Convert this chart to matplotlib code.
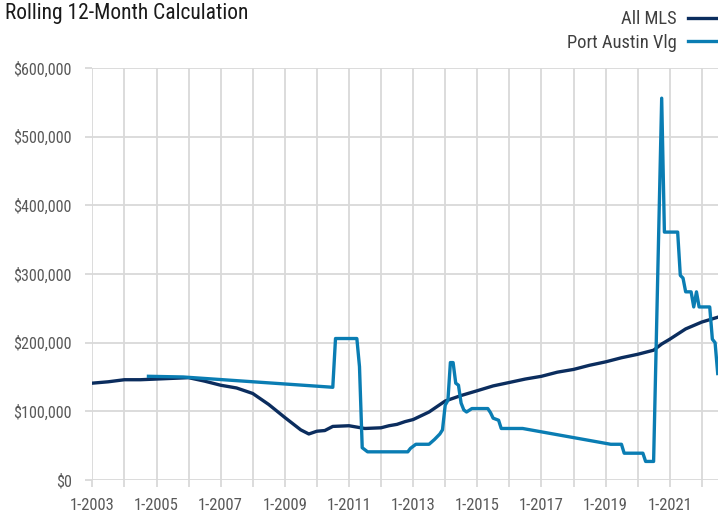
import pandas as pd
import matplotlib
matplotlib.use("Agg")
import matplotlib.pyplot as plt
from matplotlib import font_manager

names = set(f.name for f in font_manager.fontManager.ttflist)
families = [f for f in ['Roboto Condensed', 'Liberation Sans Narrow', 'Roboto'] if f in names]
plt.rcParams['font.family'] = families + ['DejaVu Sans']

# All MLS - rolling 12 month median
mls_dates = ["2003-01", "2003-07", "2004-01", "2004-07", "2005-01", "2005-07",
             "2006-01", "2006-07", "2007-01", "2007-07", "2008-01", "2008-07",
             "2009-01", "2009-07", "2009-10", "2010-01", "2010-04", "2010-07",
             "2011-01", "2011-07", "2012-01", "2012-04", "2012-07", "2012-10",
             "2013-01", "2013-07", "2014-01", "2014-07", "2015-01", "2015-07",
             "2016-01", "2016-07", "2017-01", "2017-07", "2018-01", "2018-07",
             "2019-01", "2019-07", "2020-01", "2020-07", "2020-10", "2021-01",
             "2021-07", "2022-01", "2022-07"]
mls_values = [141000, 143000, 146000, 146000, 147000, 148000,
              149000, 144000, 138000, 134000, 126000, 110000,
              91000, 73000, 67000, 71000, 72000, 78000,
              79000, 75000, 76000, 79000, 81000, 85000,
              88000, 99000, 115000, 123000, 130000, 137000,
              142000, 147000, 151000, 157000, 161000, 167000,
              172000, 178000, 183000, 189000, 198000, 205000,
              220000, 230000, 237000]

# Port Austin Vlg
pa_dates = ["2004-10", "2005-11", "2010-07", "2010-08", "2011-04", "2011-05",
            "2011-06", "2011-08", "2012-11", "2012-12", "2013-02", "2013-07",
            "2013-09", "2013-11", "2013-12", "2014-01", "2014-02", "2014-03",
            "2014-04", "2014-05", "2014-06", "2014-07", "2014-08", "2014-09",
            "2014-11", "2015-05", "2015-06", "2015-07", "2015-09", "2015-10",
            "2016-06", "2019-03", "2019-07", "2019-08", "2020-03", "2020-04",
            "2020-07", "2020-10", "2020-11", "2021-04", "2021-05", "2021-06",
            "2021-07", "2021-09", "2021-10", "2021-11", "2021-12", "2022-04",
            "2022-05", "2022-06", "2022-07"]
pa_values = [151000, 150000, 135000, 206000, 206000, 165000,
             47000, 41000, 41000, 46000, 52000, 52000,
             59000, 67000, 73000, 109000, 116000, 171000,
             171000, 141000, 138000, 112000, 102000, 99000,
             104000, 104000, 98000, 90000, 87000, 75000,
             75000, 52000, 52000, 39000, 39000, 27000,
             27000, 556000, 361000, 361000, 298000, 294000,
             274000, 274000, 252000, 274000, 252000, 252000,
             205000, 200000, 155000]

tick_years = list(range(2003, 2023))
tick_labels = ["1-%d" % y if (y - 2003) % 2 == 0 and y < 2022 else "" for y in tick_years]
y_ticks = [0, 100000, 200000, 300000, 400000, 500000, 600000]

mls_x = pd.to_datetime(mls_dates)
pa_x = pd.to_datetime(pa_dates)

fig = plt.figure(figsize=(7.18, 5.15), dpi=100)
ax = fig.add_axes([0.1286, 0.068, 0.871, 0.800])

grid_col = '#d9d9d9'
ax.plot(mls_x, mls_values, color='#0b2d5e', lw=2.4, label='All MLS', zorder=3)
ax.plot(pa_x, pa_values, color='#0a7db3', lw=2.4, label='Port Austin Vlg', zorder=4)

ax.set_ylim(0, 600000)
ax.set_xlim(pd.Timestamp("2003-01-01"), pd.Timestamp("2022-07-01"))
ax.set_yticks(y_ticks)
ax.set_yticklabels(["${:,.0f}".format(v) for v in y_ticks])
ax.set_xticks(pd.to_datetime(["%d-01-01" % y for y in tick_years]))
ax.set_xticklabels(tick_labels)

for s in ax.spines.values():
    s.set_visible(False)
ax.grid(True, color=grid_col, lw=1.3)
ax.set_axisbelow(True)
ax.tick_params(axis='both', length=5, width=1.3, color=grid_col,
               labelsize=11.6, labelcolor='#595959')
ax.tick_params(axis='x', labelsize=12, pad=8)
ax.tick_params(axis='y', pad=10)

fig.text(0.007, 0.995, 'Rolling 12-Month Calculation', fontsize=15.5,
         color='#1a1a1a', ha='left', va='top')

fig.legend(loc='upper right', bbox_to_anchor=(0.998, 0.980), frameon=False,
           markerfirst=False, fontsize=13.3, handlelength=1.57,
           handletextpad=0.6, labelspacing=0.3, borderpad=0,
           borderaxespad=0, labelcolor='#404040')

fig.savefig('out.png', dpi=100)
